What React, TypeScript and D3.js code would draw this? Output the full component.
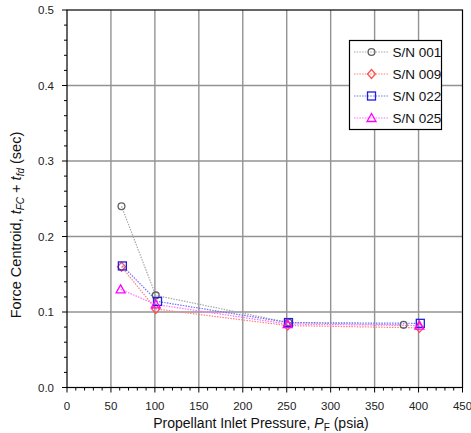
import React from "react";
import * as d3 from "d3";

const xTicks = [0, 50, 100, 150, 200, 250, 300, 350, 400, 450];
const yTicks = [0, 0.1, 0.2, 0.3, 0.4, 0.5];

const sn001X = [62, 101, 252, 383];
const sn001Y = [0.24, 0.122, 0.086, 0.083];
const sn009X = [62, 101, 251, 401];
const sn009Y = [0.16, 0.104, 0.082, 0.079];
const sn022X = [63, 103, 252, 402];
const sn022Y = [0.161, 0.114, 0.086, 0.085];
const sn025X = [61, 101, 251, 401];
const sn025Y = [0.13, 0.11, 0.084, 0.082];

const seriesNames = ["S/N 001", "S/N 009", "S/N 022", "S/N 025"];

const series = [
  { name: seriesNames[0], xs: sn001X, ys: sn001Y, line: "#a8a8a8", mark: "#606060", shape: "circle" },
  { name: seriesNames[1], xs: sn009X, ys: sn009Y, line: "#ff8080", mark: "#ff5050", shape: "diamond" },
  { name: seriesNames[2], xs: sn022X, ys: sn022Y, line: "#7070ff", mark: "#2020e0", shape: "square" },
  { name: seriesNames[3], xs: sn025X, ys: sn025Y, line: "#ff70ff", mark: "#ff00ff", shape: "triangle" },
];

function Marker({ shape, x, y, color }: { shape: string; x: number; y: number; color: string }) {
  const common = { fill: "none", stroke: color, strokeWidth: 1.3 };
  if (shape === "circle") return <circle cx={x} cy={y} r={3.4} {...common} />;
  if (shape === "square") return <rect x={x - 4} y={y - 4} width={8} height={8} {...common} />;
  if (shape === "diamond")
    return <path d={`M${x},${y - 4.5}L${x + 4},${y}L${x},${y + 4.5}L${x - 4},${y}Z`} {...common} />;
  return <path d={`M${x},${y - 4.5}L${x + 4.5},${y + 3.5}L${x - 4.5},${y + 3.5}Z`} {...common} />;
}

export default function App() {
  const W = 471, H = 433;
  const L = 67, R = 462.5, T = 10, B = 387.5;
  const x = d3.scaleLinear().domain([0, 450]).range([L, R]);
  const y = d3.scaleLinear().domain([0, 0.5]).range([B, T]);
  const xMinor = d3.range(0, 451, 10);
  const yMinor = d3.range(0, 0.5001, 0.02);
  const font = "'Liberation Sans', Arial, sans-serif";
  const line = d3.line<[number, number]>().x((d) => x(d[0])).y((d) => y(d[1]));

  return (
    <svg width={W} height={H} style={{ position: "absolute", left: 0, top: 0 }} fontFamily={font}>
      <rect width={W} height={H} fill="#fff" />
      {xTicks.slice(1, -1).map((t) => (
        <line key={"gx" + t} x1={x(t)} x2={x(t)} y1={T} y2={B} stroke="#939393" strokeWidth={1.4} />
      ))}
      {yTicks.slice(1, -1).map((t) => (
        <line key={"gy" + t} x1={L} x2={R} y1={y(t)} y2={y(t)} stroke="#939393" strokeWidth={1.4} />
      ))}
      {xMinor.map((t) => (
        <line key={"mx" + t} x1={x(t)} x2={x(t)} y1={B} y2={B + (t % 50 === 0 ? 5 : 3)} stroke="#000" strokeWidth={1} />
      ))}
      {yMinor.map((t, i) => (
        <line key={"my" + i} x1={L} x2={L - (i % 5 === 0 ? 5 : 3)} y1={y(t)} y2={y(t)} stroke="#000" strokeWidth={1} />
      ))}
      <rect x={L} y={T} width={R - L} height={B - T} fill="none" stroke="#000" strokeWidth={1.2} />
      {xTicks.map((t) => (
        <text key={"xl" + t} x={x(t)} y={410} fontSize={11.5} textAnchor="middle" fill="#222">{t}</text>
      ))}
      {yTicks.map((t) => (
        <text key={"yl" + t} x={54} y={y(t) + 4} fontSize={11.5} textAnchor="end" fill="#222">{t.toFixed(1)}</text>
      ))}
      {series.map((s) => (
        <path key={"l" + s.name} d={line(s.xs.map((v, i) => [v, s.ys[i]] as [number, number])) || ""}
          fill="none" stroke={s.line} strokeWidth={1.2} strokeDasharray="1.5,1.2" />
      ))}
      {series.map((s) =>
        s.xs.map((v, i) => <Marker key={s.name + i} shape={s.shape} x={x(v)} y={y(s.ys[i])} color={s.mark} />)
      )}
      <g>
        <rect x={349.5} y={40.5} width={92} height={89} fill="#fff" stroke="#000" strokeWidth={1.2} />
        {series.map((s, i) => {
          const ly = 52 + i * 22;
          return (
            <g key={"lg" + s.name}>
              <line x1={354} x2={388} y1={ly} y2={ly} stroke={s.line} strokeWidth={1.2} strokeDasharray="1.5,1.2" />
              <Marker shape={s.shape} x={371.5} y={ly} color={s.mark} />
              <text x={392.5} y={ly + 5} fontSize={13.5} fill="#111">{s.name}</text>
            </g>
          );
        })}
      </g>
      <text x={261} y={428} fontSize={14} textAnchor="middle" fill="#111">
        Propellant Inlet Pressure, <tspan fontStyle="italic">P</tspan>
        <tspan fontSize={10} dy={3}>F</tspan>
        <tspan dy={-3}> (psia)</tspan>
      </text>
      <text transform={`translate(21,225) rotate(-90)`} fontSize={14.5} textAnchor="middle" fill="#111">
        Force Centroid,  <tspan fontStyle="italic">t</tspan>
        <tspan fontSize={10} fontStyle="italic" dy={3}>FC</tspan>
        <tspan dy={-3}> + </tspan>
        <tspan fontStyle="italic">t</tspan>
        <tspan fontSize={10} fontStyle="italic" dy={3}>fd</tspan>
        <tspan dy={-3}> (sec)</tspan>
      </text>
    </svg>
  );
}
